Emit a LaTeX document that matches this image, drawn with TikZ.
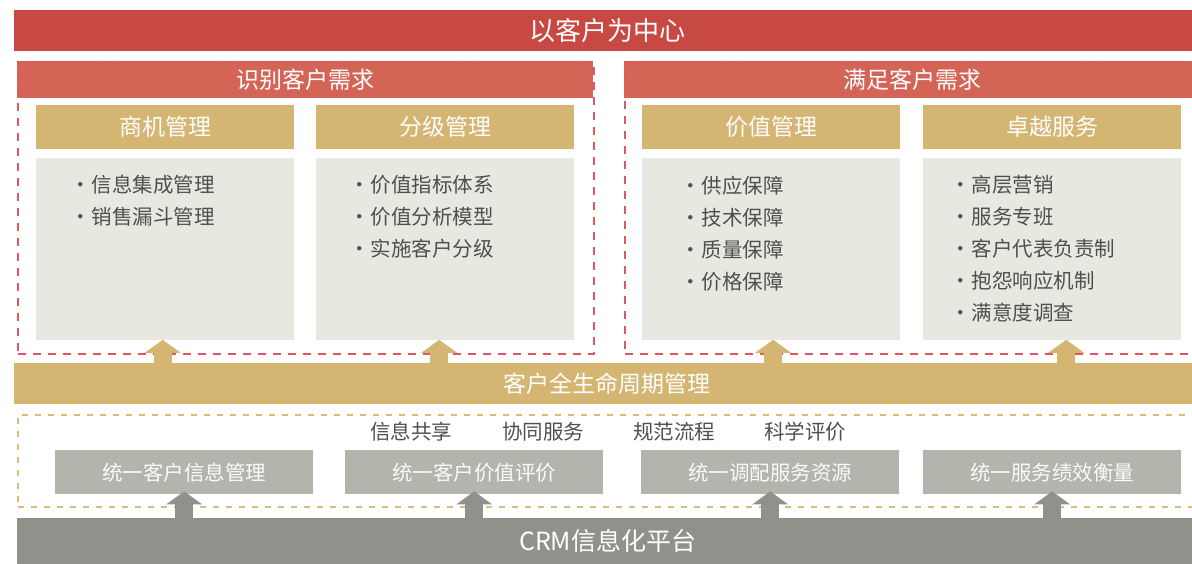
\documentclass[tikz,border=0pt]{standalone}
\usepackage{fontspec}
\setmainfont{Noto Sans CJK SC}
\usetikzlibrary{arrows.meta,positioning}
\definecolor{cred}{HTML}{C84843}
\definecolor{hred}{HTML}{D36456}
\definecolor{dred}{HTML}{DC5A5E}
\definecolor{gold}{HTML}{D4B572}
\definecolor{dgold}{HTML}{DDBB7A}
\definecolor{pale}{HTML}{E8E7E0}
\definecolor{stone}{HTML}{B4B4AD}
\definecolor{slate}{HTML}{91918B}
\definecolor{ink}{HTML}{4F4F4F}
\tikzset{
  bar/.style={anchor=north west, draw=none, inner sep=0pt, text=white, font=\fontsize{23}{28}\selectfont},
  band/.style={anchor=north west, fill=hred, inner sep=0pt, minimum height=37pt, text=white, font=\fontsize{23}{28}\selectfont},
  frame/.style={anchor=north west, draw=dred, line width=1.5pt, dash pattern=on 8pt off 7pt, inner sep=0pt},
  goldframe/.style={frame, draw=dgold, dash pattern=on 6pt off 7pt},
  head/.style={anchor=north west, fill=gold, minimum width=258pt, minimum height=44pt, inner sep=0pt, text=white, font=\fontsize{23}{28}\selectfont},
  panel/.style={fill=pale, minimum width=258pt, minimum height=182pt, inner sep=0pt},
  item/.style={anchor=west, inner sep=0pt, text=ink, font=\fontsize{20.5}{24}\selectfont},
  tag/.style={inner sep=0pt, text=ink, font=\fontsize{20.5}{24}\selectfont},
  unit/.style={anchor=north west, fill=stone, minimum width=258pt, minimum height=44pt, inner sep=0pt, text=white!94!stone, font=\fontsize{20.5}{24}\selectfont},
  goldup/.style={-{Triangle[length=13pt,width=36pt,line width=0pt]}, line width=18pt, draw=gold},
  grayup/.style={-{Triangle[length=13pt,width=36pt,line width=0pt]}, line width=18pt, draw=slate},
}
\begin{document}
\begin{tikzpicture}[x=1pt, y=-1pt]
  \useasboundingbox (0,0) rectangle (1192,563);
  % top banner
  \node[bar, fill=cred, minimum width=1186pt, minimum height=41pt, font=\fontsize{26}{30}\selectfont] (title) at (14,10) {以客户为中心};
  % needs
  \node[band, minimum width=576pt] (idband) at (17,61) {识别客户需求};
  \node[band, minimum width=577pt] (meetband) at (624,61) {满足客户需求};
  \node[frame, minimum width=576pt, minimum height=292pt] (idframe) at (17,61) {};
  \node[frame, minimum width=577pt, minimum height=292pt] (meetframe) at (624,61) {};
  \foreach \n/\x/\t in {1/36/商机管理, 2/316/分级管理, 3/642/价值管理, 4/923/卓越服务}{
    \node[head] (h\n) at (\x,105) {\t};
    \node[panel, below=8pt of h\n] (c\n) {};
  }
  % bullet lists
  \foreach \t [count=\i] in {信息集成管理, 销售漏斗管理}
    \node[item] (a\i) at (70,153+32*\i) {•\hspace{1pt}\t};
  \foreach \t [count=\i] in {价值指标体系, 价值分析模型, 实施客户分级}
    \node[item] (b\i) at (349,153+32*\i) {•\hspace{1pt}\t};
  \foreach \t [count=\i] in {供应保障, 技术保障, 质量保障, 价格保障}
    \node[item] (v\i) at (680,154+32*\i) {•\hspace{1pt}\t};
  \foreach \t [count=\i] in {高层营销, 服务专班, 客户代表负责制, 抱怨响应机制, 满意度调查}
    \node[item] (s\i) at (950,153+32*\i) {•\hspace{1pt}\t};
  % lifecycle
  \node[bar, fill=gold, minimum width=1186pt, minimum height=41pt] (life) at (14,363) {客户全生命周期管理};
  \foreach \n/\d in {1/-2.5, 2/-6, 3/2, 4/14}
    \draw[goldup] ([xshift=\d pt]c\n.south |- life.north) -- ([xshift=\d pt]c\n.south);
  % unified services
  \node[goldframe, minimum width=1181pt, minimum height=92pt] (svcframe) at (17,414) {};
  \foreach \n/\x/\t in {1/411/信息共享, 2/543/协同服务, 3/674/规范流程, 4/805/科学评价}
    \node[tag] (k\n) at (\x,432) {\t};
  \foreach \n/\x/\t in {1/55/统一客户信息管理, 2/345/统一客户价值评价, 3/641/统一调配服务资源, 4/923/统一服务绩效衡量}
    \node[unit] (u\n) at (\x,450) {\t};
  % platform
  \node[bar, fill=slate, minimum width=1181pt, minimum height=46pt, font=\fontsize{25}{30}\selectfont] (crm) at (17,518) {CRM信息化平台};
  \foreach \n in {1,...,4}
    \draw[grayup] (u\n.south |- crm.north) -- ([yshift=3pt]u\n.south);
\end{tikzpicture}
\end{document}
